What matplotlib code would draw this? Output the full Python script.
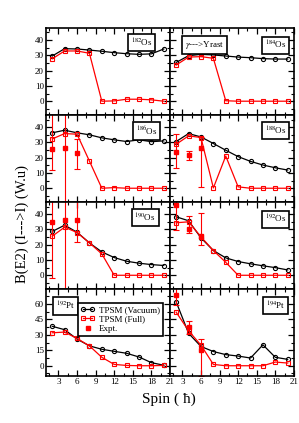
import matplotlib
matplotlib.use("Agg")
import matplotlib.pyplot as plt
from matplotlib.lines import Line2D
from matplotlib.legend_handler import HandlerLine2D
from matplotlib.ticker import MultipleLocator

plt.rcParams["font.family"] = ["Liberation Serif", "DejaVu Serif"]
plt.rcParams["mathtext.fontset"] = "stix"

# spin values (hbar) shared by every panel
spins = [2, 4, 6, 8, 10, 12, 14, 16, 18, 20]
exp_spins = [2, 4, 6]

os182_vac = [29.6, 34.4, 34.2, 33.5, 32.7, 31.8, 31.1, 30.7, 31.0, 34.2]
os182_full = [27.8, 32.9, 32.9, 31.4, 0.0, 0.2, 1.3, 1.3, 0.9, 0.0]

os184_vac = [25.4, 29.8, 30.7, 30.3, 29.6, 28.9, 28.5, 27.9, 27.6, 27.6]
os184_full = [23.7, 28.9, 29.2, 28.1, 0.3, 0.0, 0.0, 0.0, 0.0, 0.0]

os186_vac = [36.3, 38.0, 36.3, 35.0, 33.0, 31.7, 30.6, 31.7, 30.5, 31.0]
os186_full = [32.3, 35.8, 35.4, 17.8, 0.0, 0.4, 0.0, 0.0, 0.0, 0.0]
os186_exp = [25.7, 26.2, 23.3]
os186_lo = [14.0, 40.0, 11.0]
os186_hi = [30.0, 40.0, 9.0]

os188_vac = [30.6, 35.8, 33.6, 29.3, 24.9, 20.7, 17.6, 15.2, 13.4, 11.9]
os188_full = [28.8, 34.3, 33.2, 0.2, 21.1, 0.9, 0.0, 0.0, 0.0, 0.0]
os188_exp = [24.0, 21.6, 26.4]
os188_lo = [11.0, 2.8, 25.5]
os188_hi = [11.4, 2.8, 7.2]

os190_vac = [28.7, 32.8, 28.2, 21.2, 15.3, 11.6, 9.2, 7.9, 7.0, 6.4]
os190_full = [25.6, 31.5, 28.0, 21.2, 14.0, 0.0, 0.0, 0.0, 0.0, 0.0]
os190_exp = [35.0, 35.9, 36.5]
os190_lo = [37.0, 50.0, 15.0]
os190_hi = [37.0, 50.0, 15.0]

os192_vac = [38.3, 35.7, 24.5, 16.2, 11.4, 9.0, 7.5, 6.2, 5.0, 3.5]
os192_full = [34.4, 35.0, 25.2, 16.2, 8.5, 0.0, 0.0, 0.0, 0.0, 0.0]
os192_exp = [45.9, 30.4, 26.0]
os192_lo = [16.0, 3.0, 6.0]
os192_hi = [16.0, 8.3, 15.0]

pt192_vac = [38.3, 35.0, 25.9, 19.3, 16.0, 14.0, 12.1, 8.5, 3.0, 0.5]
pt192_full = [32.0, 32.7, 26.5, 19.3, 8.2, 1.3, 0.3, 0.0, 0.0, 0.3]

pt194_vac = [62.0, 31.5, 18.7, 13.8, 10.8, 9.4, 7.5, 20.3, 8.2, 6.2]
pt194_full = [52.0, 34.0, 20.0, 1.3, 0.0, 0.0, 0.0, 0.0, 3.6, 2.6]
pt194_exp = [69.0, 37.4, 15.0]
pt194_lo = [10.0, 6.5, 25.0]
pt194_hi = [10.0, 6.5, 11.0]

panels = [
    ("182", "Os", os182_vac, os182_full, None, (0.77, 0.83)),
    ("184", "Os", os184_vac, os184_full, None, (0.85, 0.80)),
    ("186", "Os", os186_vac, os186_full, (os186_exp, os186_lo, os186_hi), (0.81, 0.815)),
    ("188", "Os", os188_vac, os188_full, (os188_exp, os188_lo, os188_hi), (0.85, 0.82)),
    ("190", "Os", os190_vac, os190_full, (os190_exp, os190_lo, os190_hi), (0.80, 0.82)),
    ("192", "Os", os192_vac, os192_full, (os192_exp, os192_lo, os192_hi), (0.85, 0.80)),
    ("192", "Pt", pt192_vac, pt192_full, None, (0.155, 0.805)),
    ("194", "Pt", pt194_vac, pt194_full, (pt194_exp, pt194_lo, pt194_hi), (0.85, 0.81)),
]

RED = "#ff0000"
box = dict(boxstyle="square,pad=0.3", facecolor="white", edgecolor="black", linewidth=1.2)

fig, axes = plt.subplots(4, 2, figsize=(2.99, 4.23), dpi=100, sharex=True)
fig.subplots_adjust(left=0.154, right=0.983, top=0.934, bottom=0.111, wspace=0, hspace=0)

for i, (mass, elem, vac, full, expt, lpos) in enumerate(panels):
    ax = axes[i // 2, i % 2]
    ax.plot(spins, vac, color="black", lw=0.9, marker="o", ms=3.0, mfc="none", mew=0.8)
    ax.plot(spins, full, color=RED, lw=0.9, marker="s", ms=2.8, mfc="none", mew=0.8)
    if expt is not None:
        vals, lo, hi = expt
        ax.errorbar(exp_spins, vals, yerr=[lo, hi], fmt="s", color=RED, ms=3.0,
                    elinewidth=0.8, capsize=2.2, capthick=0.8)
    ax.text(lpos[0], lpos[1], r"$^{%s}$%s" % (mass, elem), transform=ax.transAxes,
            ha="center", va="center", fontsize=6.5, bbox=box)

    ax.set_xlim(1, 21)
    ax.xaxis.set_major_locator(MultipleLocator(3))
    ax.xaxis.set_minor_locator(MultipleLocator(1.5))
    if elem == "Os":
        ax.set_ylim(-9, 48)
        ax.yaxis.set_major_locator(MultipleLocator(10))
        ax.yaxis.set_minor_locator(MultipleLocator(5))
    else:
        ax.set_ylim(-10, 74.5)
        ax.yaxis.set_major_locator(MultipleLocator(15))
        ax.yaxis.set_minor_locator(MultipleLocator(7.5))
    ax.tick_params(which="both", direction="in", top=True, right=True, labelsize=6.5, pad=1.5)
    ax.tick_params(which="major", length=4, width=0.9)
    ax.tick_params(which="minor", length=2.2, width=0.8)
    if i % 2 == 1:
        ax.tick_params(labelleft=False)
    for s in ax.spines.values():
        s.set_linewidth(1.2)

axes[0, 1].text(0.278, 0.805, r"$\gamma$--->Yrast", transform=axes[0, 1].transAxes,
                ha="center", va="center", fontsize=6.5, bbox=box)

vac_h = Line2D([], [], color="black", lw=0.9, marker="o", ms=3.0, mfc="none", mew=0.8)
full_h = Line2D([], [], color=RED, lw=0.9, marker="s", ms=2.8, mfc="none", mew=0.8)
exp_h = Line2D([], [], color=RED, ls="none", marker="s", ms=3.0)
leg = axes[3, 0].legend([vac_h, full_h, exp_h], ["TPSM (Vacuum)", "TPSM (Full)", "Expt."],
                        loc="upper left", bbox_to_anchor=(0.258, 0.84), borderaxespad=0,
                        fontsize=6.5, numpoints=2, handlelength=1.6, handletextpad=0.4,
                        borderpad=0.3, labelspacing=0.15, fancybox=False, framealpha=1,
                        edgecolor="black", handler_map={exp_h: HandlerLine2D(numpoints=1)})
leg.get_frame().set_linewidth(1.2)

fig.text(0.074, 0.47, "B(E2) (I--->I) (W.u)", rotation=90, ha="center", va="center", fontsize=10.5)
fig.text(0.565, 0.055, "Spin ( ħ)", ha="center", va="center", fontsize=11)

fig.savefig("out.png", dpi=100)
